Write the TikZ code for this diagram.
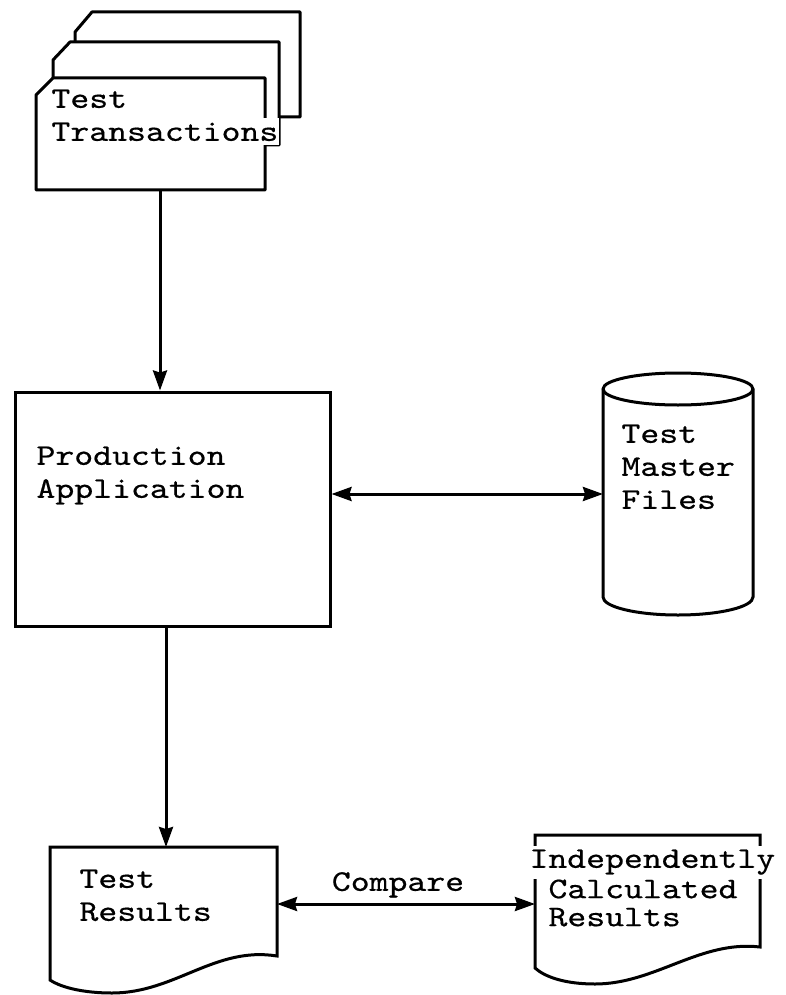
\documentclass[tikz,border=0pt]{standalone}
\usepackage{fontspec}
\newfontfamily\typefont[FakeStretch=1.2, FakeBold=0.5]{lmmono10-regular.otf}
\usetikzlibrary{arrows.meta}
\tikzset{
    lbl/.style={font=\typefont\fontsize{30}{33}\selectfont, align=left, inner sep=0pt, anchor=north west},
    mask/.style={lbl, fill=white, inner xsep=1pt, inner ysep=4pt},
    card/.style={draw, fill=white, line join=round},
}
\begin{document}
\begin{tikzpicture}[x=1pt, y=-1pt, line width=3pt, >={Stealth[length=20pt, width=14pt, inset=2pt]}]
\useasboundingbox (0,0) rectangle (785,995);
% stack of cards
\draw[card] (75,32)--(92,12)--(300,12)--(300,117)--(75,117)--cycle;
\draw[card] (53,60)--(70,42)--(279,42)--(279,145)--(53,145)--cycle;
\draw[card] (36,95)--(53,78)--(265,78)--(265,190)--(36,190)--cycle;
\node[lbl] (test) at (50,88) {Test};
\node[mask, anchor=north west] (trans) at (49,117) {Transactions};
\coordinate (cards) at (160,190);
% application
\node[draw, minimum width=315pt, minimum height=234pt, inner sep=0pt] (prod) at (172.5,509) {};
\node[lbl] (prodtxt) at (35,445) {Production\\Application};
\draw[->] (cards)--(cards |- prod.north);
% master files
\draw[fill=white] (603,389)--(603,597) arc[start angle=180, end angle=360, x radius=75pt, y radius=18pt]
    --(753,389) arc[start angle=0, end angle=180, x radius=75pt, y radius=16pt]--cycle;
\draw (603,389) arc[start angle=180, end angle=360, x radius=75pt, y radius=16pt];
\node[lbl] (mastertxt) at (620,423) {Test\\Master\\Files};
\coordinate (master) at (603,494);
\draw[<->] (prod.east |- master)--(master);
% results
\draw[fill=white] (50,847)--(277,847)--(277,956) .. controls (215,946) and (175,993) .. (112,993)
    .. controls (85,993) and (62,988) .. (50,980)--cycle;
\node[lbl] (restxt) at (78,868) {Test\\Results};
\coordinate (restop) at (166,847);
\draw[->] (restop |- prod.south)--(restop);
\draw[fill=white] (535,835)--(760,835)--(760,947) .. controls (700,940) and (655,984) .. (595,984)
    .. controls (565,984) and (545,977) .. (535,968)--cycle;
\node[mask] (indep) at (527,844) {Independently};
\node[lbl, font=\typefont\fontsize{30}{28}\selectfont] (calc) at (547,878) {Calculated\\Results};
\coordinate (resr) at (277,904);
\coordinate (indl) at (535,904);
\draw[<->] (resr)--node[pos=.469, anchor=south, font=\typefont\fontsize{30}{33}\selectfont, inner sep=5pt] (cmp) {Compare} (indl);
\end{tikzpicture}
\end{document}
